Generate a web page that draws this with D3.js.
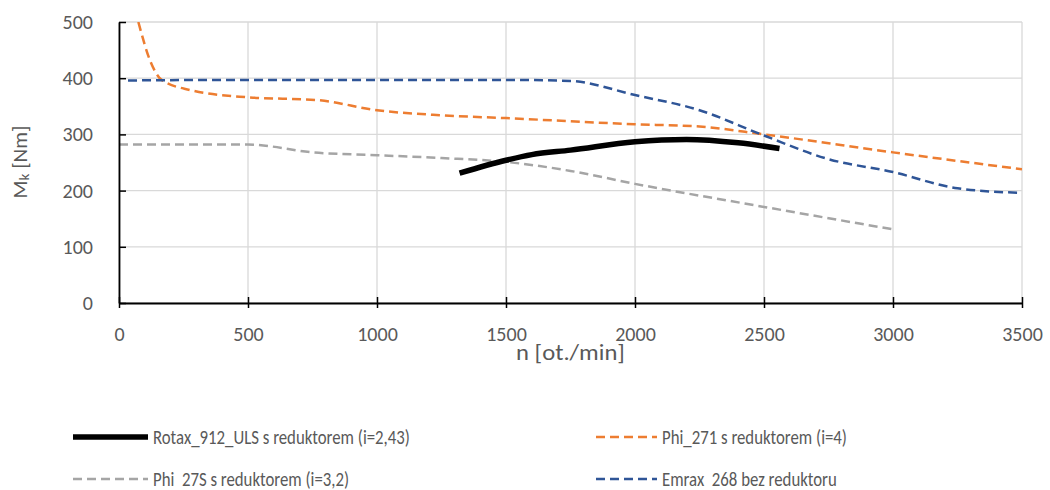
<!DOCTYPE html>
<html>
<head>
<meta charset="utf-8">
<script src="https://cdnjs.cloudflare.com/ajax/libs/d3/7.8.5/d3.min.js"></script>
<style>
  body { margin: 0; background: #fff; }
  text { font-family: Calibri, Carlito, Lato, "Liberation Sans", sans-serif; fill: #595959; }
</style>
</head>
<body>
<div id="chart"></div>
<script>
// engine torque curves
var rotaxN = [1320, 1500, 1600, 1750, 2000, 2200, 2400, 2560];
var rotaxM = [231, 254, 264, 272, 287, 291, 285, 275];

var phi271N = [75, 120, 165, 275, 500, 770, 1000, 1250, 1500, 2000, 2250, 2500, 3000, 3500];
var phi271M = [500, 432, 397, 379, 366, 361, 343, 334, 329, 318, 314, 300, 268, 238];

var phi27sN = [0, 500, 750, 1000, 1250, 1500, 1750, 2000, 2500, 3000];
var phi27sM = [282, 282, 268, 263, 258, 251, 235, 212, 171, 131];

var emraxN = [35, 500, 1000, 1500, 1750, 2000, 2250, 2500, 2750, 3000, 3250, 3500];
var emraxM = [396, 397, 397, 397, 395, 370, 343, 298, 256, 233, 204, 196];

var xTicks = [0, 500, 1000, 1500, 2000, 2500, 3000, 3500];
var yTicks = [0, 100, 200, 300, 400, 500];

var series = [
    {name: "Rotax_912_ULS s reduktorem (i=2,43)", n: rotaxN, m: rotaxM, color: "#000000", w: 5.5, dash: null},
    {name: "Phi_271 s reduktorem (i=4)", n: phi271N, m: phi271M, color: "#ED7D31", w: 2.5, dash: "9,5"},
    {name: "Phi  27S s reduktorem (i=3,2)", n: phi27sN, m: phi27sM, color: "#A5A5A5", w: 2.5, dash: "9,5"},
    {name: "Emrax  268 bez reduktoru", n: emraxN, m: emraxM, color: "#2F5597", w: 2.5, dash: "9,5"}
];

var margin = {top: 22, right: 28, bottom: 187, left: 119};
var W = 1050, H = 490;
var width = W - margin.left - margin.right;
var height = H - margin.top - margin.bottom;

var svg = d3.select("#chart").append("svg")
    .attr("width", W)
    .attr("height", H);

var g = svg.append("g")
    .attr("transform", "translate(" + margin.left + "," + margin.top + ")");

var x = d3.scaleLinear().domain([0, 3500]).range([0, width]);
var y = d3.scaleLinear().domain([0, 500]).range([height, 0]);

// grid
g.selectAll(".hgrid").data(yTicks).enter().append("line")
    .attr("x1", 0).attr("x2", width)
    .attr("y1", function(d){ return y(d); })
    .attr("y2", function(d){ return y(d); })
    .attr("stroke", "#D9D9D9").attr("stroke-width", 1.3);

g.selectAll(".vgrid").data(xTicks).enter().append("line")
    .attr("y1", 0).attr("y2", height)
    .attr("x1", function(d){ return x(d); })
    .attr("x2", function(d){ return x(d); })
    .attr("stroke", "#D9D9D9").attr("stroke-width", 1.3);

// clip for curves
svg.append("defs").append("clipPath").attr("id", "plotclip")
    .append("rect").attr("x", 0).attr("y", 0).attr("width", width).attr("height", height);

var line = d3.line()
    .x(function(d){ return x(d[0]); })
    .y(function(d){ return y(d[1]); })
    .curve(d3.curveMonotoneX);

var order = [2, 1, 3, 0];
order.forEach(function(i) {
    var s = series[i];
    var pts = s.n.map(function(v, k){ return [v, s.m[k]]; });
    g.append("path")
        .datum(pts)
        .attr("clip-path", "url(#plotclip)")
        .attr("d", line)
        .attr("fill", "none")
        .attr("stroke", s.color)
        .attr("stroke-width", s.w)
        .attr("stroke-dasharray", s.dash);
});

// axes
var xAxis = d3.axisBottom(x).tickValues(xTicks).tickFormat(d3.format("d"))
    .tickSizeInner(5).tickSizeOuter(0).tickPadding(19);
var yAxis = d3.axisLeft(y).tickValues(yTicks).tickFormat(d3.format("d"))
    .tickSizeInner(7).tickSizeOuter(0).tickPadding(19);

var gX = g.append("g").attr("transform", "translate(0," + height + ")").call(xAxis);
var gY = g.append("g").call(yAxis);

[gX, gY].forEach(function(ax) {
    ax.select(".domain").attr("stroke", "#000").attr("stroke-width", 1.8);
    ax.selectAll(".tick line").attr("stroke", "#000").attr("stroke-width", 1.5);
    ax.selectAll(".tick text").style("font-size", "20px").attr("fill", "#595959")
        .style("font-family", "Calibri, Carlito, Lato, 'Liberation Sans', sans-serif");
});
// cross ticks
gX.selectAll(".tick line").attr("y1", -6);
gY.selectAll(".tick line").attr("x2", 7);

// axis titles
svg.append("text")
    .attr("transform", "translate(" + (margin.left + width / 2) + ",360) scale(1.12,1)")
    .attr("text-anchor", "middle")
    .style("font-size", "22px")
    .text("n [ot./min]");

var yt = svg.append("text")
    .attr("transform", "translate(27,162) rotate(-90)")
    .attr("text-anchor", "middle")
    .style("font-size", "21px");
yt.append("tspan").text("M");
yt.append("tspan").attr("dy", 2).style("font-size", "15px").text("k");
yt.append("tspan").attr("dy", -2).text(" [Nm]");

// legend
var legPos = [[73, 437], [596, 437], [73, 479], [596, 479]];
var legLen = [75, 61, 75, 61];
series.forEach(function(s, i) {
    var p = legPos[i];
    var lg = svg.append("g").attr("class", "leg")
        .attr("transform", "translate(" + p[0] + "," + p[1] + ")");
    lg.append("line")
        .attr("x1", 0).attr("x2", legLen[i])
        .attr("y1", 0).attr("y2", 0)
        .attr("stroke", s.color)
        .attr("stroke-width", s.w)
        .attr("stroke-dasharray", s.dash);
    lg.append("text")
        .attr("transform", "translate(" + (legLen[i] + 5) + ",0) scale(0.84,1)")
        .attr("dy", "0.35em")
        .style("font-size", "20px")
        .style("white-space", "pre")
        .text(s.name);
});
</script>
</body>
</html>
